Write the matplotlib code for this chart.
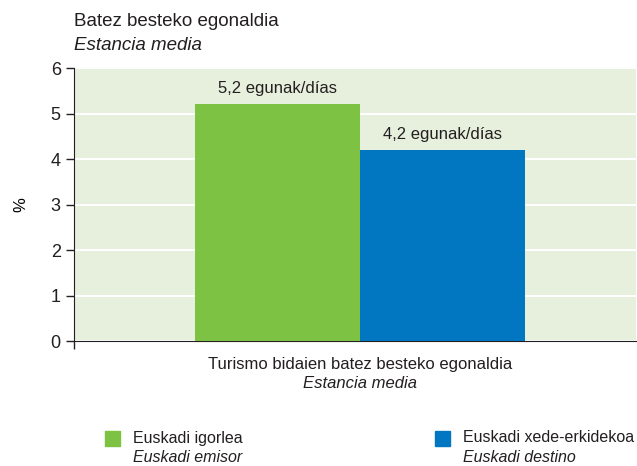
import matplotlib.pyplot as plt
from matplotlib.patches import Rectangle

# Fonts: narrow-ish sans
plt.rcParams.update({
    "font.family": ["Liberation Sans", "DejaVu Sans"],
    "text.color": "#231f20",
    "axes.edgecolor": "#231f20",
    "xtick.color": "#231f20",
    "ytick.color": "#231f20",
})

series_eu = ["Euskadi igorlea", "Euskadi xede-erkidekoa"]
series_es = ["Euskadi emisor", "Euskadi destino"]
values = [5.2, 4.2]
bar_labels = ["5,2 egunak/días", "4,2 egunak/días"]
colors = ["#7dc243", "#0077c0"]
yticks = [0, 1, 2, 3, 4, 5, 6]

fig = plt.figure(figsize=(6.37, 4.66), dpi=100)
ax = fig.add_axes([74 / 637, 1 - 341 / 466, 562 / 637, 273 / 466])
ax.set_facecolor("#e6f0dc")

w = 0.3
xs = [-w / 2, w / 2]
bars = ax.bar(xs, values, width=w, color=colors, zorder=3)
for b, lab in zip(bars, bar_labels):
    ax.text(b.get_x() + b.get_width() / 2, b.get_height() + 0.18, lab,
            ha="center", va="bottom", fontsize=12)

ax.set_xlim(-0.52, 0.502)
ax.set_ylim(0, 6)
ax.set_yticks(yticks)
ax.set_yticklabels([str(t) for t in yticks], fontsize=13)
ax.yaxis.grid(True, color="white", linewidth=1.5, zorder=1)
ax.set_axisbelow(True)
ax.set_xticks([-0.52])
ax.set_xticklabels([""])
ax.tick_params(direction="out", length=6, width=1)
ax.spines["top"].set_visible(False)
ax.spines["right"].set_visible(False)
ax.set_ylabel("%", fontsize=12, labelpad=16)

# category label under axis
fig.text(360 / 637, 1 - 365 / 466, "Turismo bidaien batez besteko egonaldia",
         ha="center", va="center", fontsize=12)
fig.text(360 / 637, 1 - 383 / 466, "Estancia media", ha="center", va="center",
         fontsize=12, style="italic")

# title
fig.text(74 / 637, 1 - 22 / 466, "Batez besteko egonaldia", ha="left", va="center", fontsize=13.5)
fig.text(74 / 637, 1 - 46 / 466, "Estancia media", ha="left", va="center",
         fontsize=13.5, style="italic")

# legend
leg_x = [105, 435]
for lx, c, t1, t2 in zip(leg_x, colors, series_eu, series_es):
    fig.patches.append(Rectangle((lx / 637, 1 - 446 / 466), 15 / 637, 15 / 466,
                                 transform=fig.transFigure, color=c))
    fig.text((lx + 28) / 637, 1 - 438 / 466, t1, ha="left", va="center", fontsize=11.5)
    fig.text((lx + 28) / 637, 1 - 458 / 466, t2, ha="left", va="center",
             fontsize=11.5, style="italic")

fig.savefig("out.png", dpi=100)
